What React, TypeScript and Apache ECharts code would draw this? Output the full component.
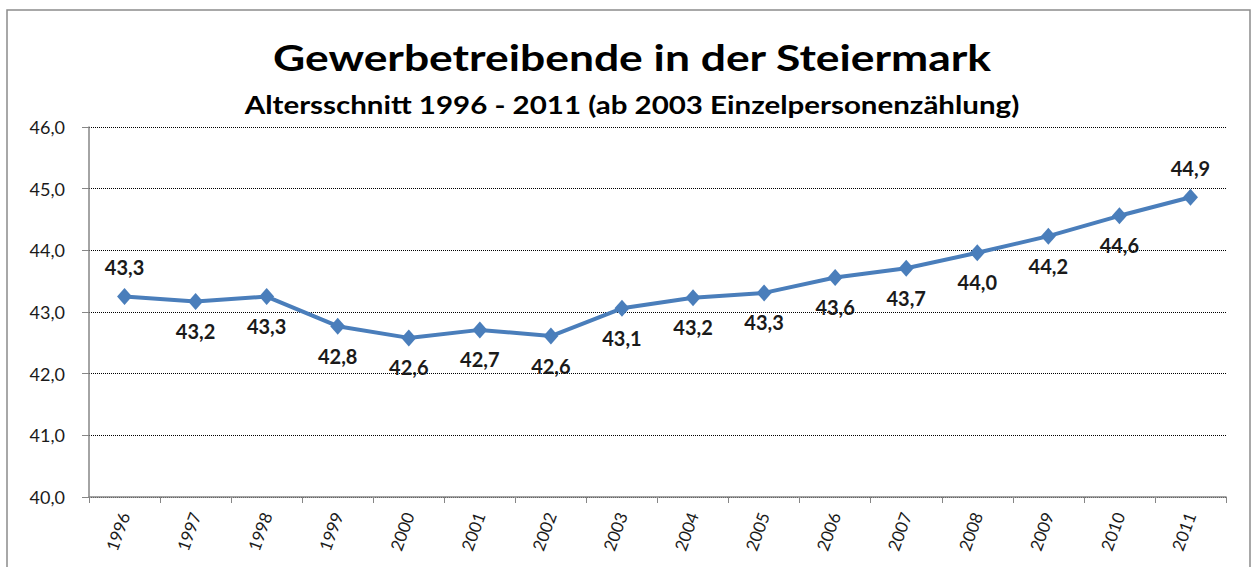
import React, { useEffect, useRef } from "react";
import * as echarts from "echarts";

const years = ["1996","1997","1998","1999","2000","2001","2002","2003","2004","2005","2006","2007","2008","2009","2010","2011"];
const averageAge = [43.25, 43.17, 43.25, 42.77, 42.58, 42.71, 42.61, 43.06, 43.23, 43.31, 43.56, 43.71, 43.96, 44.23, 44.56, 44.86];
const labelSide = ["top","bottom","bottom","bottom","bottom","bottom","bottom","bottom","bottom","bottom","bottom","bottom","bottom","bottom","bottom","top"];
const titleText = "Gewerbetreibende in der Steiermark";
const subtitleText = "Altersschnitt 1996 - 2011 (ab 2003 Einzelpersonenzählung)";

const FONT = "Lato, 'Open Sans', sans-serif";
const fmt = (v: number) => v.toFixed(1).replace(".", ",");

export default function App() {
  const ref = useRef<HTMLDivElement>(null);
  useEffect(() => {
    if (!ref.current) return;
    const chart = echarts.init(ref.current, null, { renderer: "svg" });
    chart.setOption({
      animation: false,
      backgroundColor: "#ffffff",
      textStyle: { fontFamily: FONT },
      graphic: [
        {
          type: "rect",
          shape: { x: 7, y: 10, width: 1243, height: 600 },
          style: { fill: "none", stroke: "#8c8c8c", lineWidth: 1.5 },
          silent: true,
        },
        {
          type: "text",
          x: 632,
          y: 57,
          scaleX: 1.2,
          style: {
            text: titleText,
            font: `bold 37px ${FONT}`,
            fill: "#000000",
            align: "center",
            verticalAlign: "middle",
          },
        },
        {
          type: "text",
          x: 632,
          y: 104,
          scaleX: 1.18,
          style: {
            text: subtitleText,
            font: `bold 25px ${FONT}`,
            fill: "#000000",
            align: "center",
            verticalAlign: "middle",
          },
        },
      ],
      grid: { left: 89, right: 29, top: 127, bottom: 70, containLabel: false },
      xAxis: {
        type: "category",
        data: years,
        boundaryGap: true,
        axisLine: { lineStyle: { color: "#868686", width: 1.5 } },
        axisTick: { show: true, length: 6, lineStyle: { color: "#868686" } },
        axisLabel: {
          rotate: 70,
          margin: 16,
          fontSize: 17,
          color: "#1a1a1a",
          fontFamily: FONT,
        },
      },
      yAxis: {
        type: "value",
        min: 40,
        max: 46,
        interval: 1,
        axisLine: { show: true, lineStyle: { color: "#868686", width: 1.5 } },
        axisTick: { show: true, length: 7, lineStyle: { color: "#868686" } },
        axisLabel: {
          margin: 24,
          fontSize: 18,
          color: "#1a1a1a",
          fontFamily: FONT,
          formatter: (v: number) => fmt(v),
        },
        splitLine: { show: true, lineStyle: { color: "#000000", type: [1, 1], width: 1 } },
      },
      series: [
        {
          type: "line",
          data: averageAge.map((v, i) => ({
            value: v,
            label: { position: labelSide[i] },
          })),
          lineStyle: { color: "#4a7ebb", width: 4 },
          itemStyle: { color: "#4a7ebb" },
          symbol: "diamond",
          symbolSize: [15, 17],
          label: {
            show: true,
            distance: 11,
            fontSize: 20,
            fontWeight: "bold",
            color: "#1a1a1a",
            fontFamily: FONT,
            formatter: (p: any) => fmt(p.value),
          },
        },
      ],
    });
    return () => chart.dispose();
  }, []);
  return <div ref={ref} style={{ position: "absolute", left: 0, top: 0, width: 1255, height: 567 }} />;
}
